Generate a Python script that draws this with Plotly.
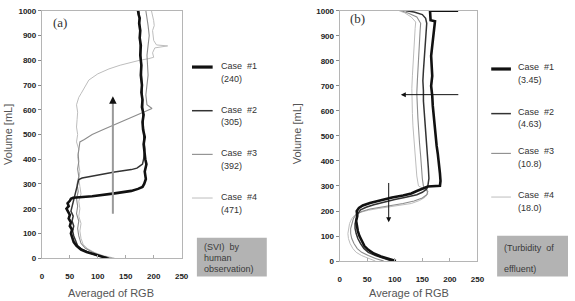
import plotly.graph_objects as go

# ---------------- Panel (a): SVI by human observation ----------------
a1_x = [117,106,92,80,70,62,57,55,52,54,50,52,48,50,46,44,48,46,50,52,56,90,130,160,172,180,183,186,184,187,185,183,182,184,181,180,182,179,180,178,179,177,178,176,177,175,176,174,175,173,172]
a1_y = [0,8,15,25,35,50,65,80,100,115,130,145,160,175,190,200,210,222,232,240,244,250,262,272,280,288,300,320,350,380,400,430,460,490,520,550,580,610,640,670,700,740,780,820,860,890,920,950,970,985,1000]

a2_x = [120,100,85,72,64,60,57,55,57,54,56,52,54,56,58,60,62,64,66,72,100,130,160,170,175,180,182,184,182,181,180,179,178,177,176,175,174,173]
a2_y = [0,10,22,35,50,70,90,110,130,150,170,190,210,230,250,270,290,305,318,324,336,348,358,364,372,380,400,440,500,560,640,720,800,860,920,960,985,1000]

a3_x = [125,105,90,78,70,66,64,66,62,64,62,65,63,66,64,66,65,66,68,76,90,110,130,150,165,175,185,190,197,188,186,188,190,189,188,190,192,190,188,186]
a3_y = [0,10,25,40,60,90,120,150,180,210,240,270,300,330,360,390,420,450,470,480,500,520,540,560,575,585,595,600,605,620,660,700,740,780,820,860,900,940,980,1000]

a4_x = [130,110,95,82,74,70,68,70,66,68,66,70,68,66,68,66,64,66,62,64,62,63,64,62,66,70,76,84,100,120,140,160,175,190,200,198,202,225,205,200,198,201,200,196]
a4_y = [0,10,22,38,55,80,110,140,170,200,230,260,290,320,350,380,410,440,470,500,530,560,590,620,650,665,690,720,745,765,780,793,800,806,812,830,850,858,862,880,920,940,960,1000]

# ---------------- Panel (b): turbidity of effluent ----------------
b1_x = [102,90,75,62,52,45,40,36,33,31,30,32,31,35,42,55,75,95,115,130,140,150,160,182,183,182,181,180,178,176,174,172,170,169,168,166,168,167,166,168,170,172,173,165,164,164,164,215]
b1_y = [0,8,18,30,45,60,80,100,120,140,160,180,200,212,222,232,244,254,262,270,280,290,298,301,320,350,380,400,430,460,500,540,580,620,660,700,740,780,820,860,900,940,958,962,980,995,1000,1000]

b2_x = [95,80,65,52,44,38,33,30,28,28,30,33,38,48,62,80,100,120,140,150,158,160,162,161,160,158,156,155,154,153,152,152,151,152,153,154,155,157,158,156,150,135,120]
b2_y = [0,10,22,35,50,70,90,110,130,150,170,190,205,215,225,236,246,255,265,275,288,300,330,370,400,440,480,520,560,600,640,680,720,760,800,840,880,920,950,970,985,995,1000]

b3_x = [80,65,52,40,32,26,22,20,20,22,25,30,40,55,75,95,115,135,150,158,160,155,152,150,149,147,145,143,142,141,140,141,142,143,144,146,147,140,125,112]
b3_y = [0,10,22,35,50,70,90,110,130,150,170,185,198,208,215,222,230,240,252,265,278,290,300,330,370,420,470,520,570,620,670,720,770,820,870,920,950,975,990,1000]

b4_x = [65,52,40,30,24,19,16,15,16,18,22,28,38,52,70,90,110,130,145,155,160,158,150,143,140,138,136,134,133,132,131,131,132,133,134,135,137,138,130,118,108]
b4_y = [0,10,22,35,50,70,90,110,130,150,170,185,195,203,210,216,222,230,242,255,268,282,292,300,340,390,440,490,540,590,640,690,740,790,840,890,930,955,975,992,1000]

x_ticks = [0, 50, 100, 150, 200, 250]
y_ticks = [0, 100, 200, 300, 400, 500, 600, 700, 800, 900, 1000]

labels_a = ["Case  #1", "Case  #2", "Case  #3", "Case  #4"]
values_a = ["(240)", "(305)", "(392)", "(471)"]
labels_b = ["Case  #1", "Case  #2", "Case  #3", "Case  #4"]
values_b = ["(3.45)", "(4.63)", "(10.8)", "(18.0)"]

colors = ["#111111", "#333333", "#8c8c8c", "#bdbdbd"]
widths = [2.6, 1.5, 1.1, 1.0]

W, H = 575, 301
def px(xp): return xp / W
def py(yp): return 1 - yp / H

fig = go.Figure()
for xs, ys, c, w in zip([a1_x, a2_x, a3_x, a4_x][::-1], [a1_y, a2_y, a3_y, a4_y][::-1], colors[::-1], widths[::-1]):
    fig.add_trace(go.Scatter(x=xs, y=ys, mode="lines", line=dict(color=c, width=w), xaxis="x", yaxis="y", showlegend=False))
for xs, ys, c, w in zip([b1_x, b2_x, b3_x, b4_x][::-1], [b1_y, b2_y, b3_y, b4_y][::-1], colors[::-1], widths[::-1]):
    fig.add_trace(go.Scatter(x=xs, y=ys, mode="lines", line=dict(color=c, width=w), xaxis="x2", yaxis="y2", showlegend=False))

tickfont = dict(family="Liberation Sans, Arial", size=8, color="#222222", weight="bold")
axis_common = dict(range=[0, 250], tickvals=x_ticks, ticks="inside", ticklen=3, tickcolor="#aaaaaa",
                   showline=True, linecolor="#b5b5b5", linewidth=1, mirror=True, showgrid=False,
                   zeroline=False, tickfont=tickfont, fixedrange=True, ticklabelstandoff=10)
yaxis_common = dict(range=[0, 1000], tickvals=y_ticks, ticks="outside", ticklen=3, tickcolor="#888888",
                    showline=True, linecolor="#b5b5b5", linewidth=1, mirror=True, showgrid=False,
                    zeroline=False, tickfont=tickfont, fixedrange=True)

fig.update_layout(
    width=W, height=H, margin=dict(l=0, r=0, t=0, b=0),
    paper_bgcolor="white", plot_bgcolor="white",
    xaxis=dict(domain=[px(40.5), px(182.5)], anchor="y", **axis_common),
    yaxis=dict(domain=[py(262), py(7)], anchor="x", **yaxis_common),
    xaxis2=dict(domain=[px(343), px(483)], anchor="y2", **axis_common),
    yaxis2=dict(domain=[py(265), py(7)], anchor="x2", **yaxis_common),
)

shapes = []
ann = []
txtfont = dict(family="Liberation Sans, Arial", size=9, color="#333333")

# arrows panel (a)
shapes.append(dict(type="line", xref="x", yref="y", x0=127, x1=127, y0=180, y1=640, line=dict(color="#9a9a9a", width=2)))
ann.append(dict(xref="x", yref="y", axref="x", ayref="y", x=127, y=655, ax=127, ay=630, showarrow=True,
                arrowhead=2, arrowsize=1, arrowwidth=1.5, arrowcolor="#111111", text=""))
# arrows panel (b)
ann.append(dict(xref="x2", yref="y2", axref="x2", ayref="y2", x=111, y=665, ax=218, ay=665, showarrow=True,
                arrowhead=2, arrowsize=1, arrowwidth=1, arrowcolor="#111111", text=""))
ann.append(dict(xref="x2", yref="y2", axref="x2", ayref="y2", x=89, y=155, ax=89, ay=318, showarrow=True,
                arrowhead=2, arrowsize=1, arrowwidth=1, arrowcolor="#111111", text=""))

# panel labels
ann.append(dict(xref="paper", yref="paper", x=px(50), y=py(19), xanchor="left", yanchor="middle", showarrow=False,
                text="(a)", font=dict(family="Liberation Serif, Times New Roman", size=13, color="#333333")))
ann.append(dict(xref="paper", yref="paper", x=px(352), y=py(15), xanchor="left", yanchor="middle", showarrow=False,
                text="(b)", font=dict(family="Liberation Serif, Times New Roman", size=13, color="#333333")))

# axis titles
axfont = dict(family="Liberation Sans, Arial", size=11, color="#555555")
ann.append(dict(xref="paper", yref="paper", x=px(6), y=py(134), textangle=-90, showarrow=False,
                text="Volume [mL]", font=axfont, xanchor="center", yanchor="middle"))
ann.append(dict(xref="paper", yref="paper", x=px(300), y=py(134), textangle=-90, showarrow=False,
                text="Volume [mL]", font=axfont, xanchor="center", yanchor="middle"))
ann.append(dict(xref="paper", yref="paper", x=px(111), y=py(298), showarrow=False,
                text="Averaged of RGB", font=axfont, xanchor="center", yanchor="middle"))
ann.append(dict(xref="paper", yref="paper", x=px(413), y=py(298), showarrow=False,
                text="Average of RGB", font=axfont, xanchor="center", yanchor="middle"))

# legends
leg_a_y = [65, 110, 155, 200]
leg_b_y = [67, 113, 154, 199]
for i in range(4):
    shapes.append(dict(type="line", xref="paper", yref="paper", x0=px(193), x1=px(214), y0=py(leg_a_y[i]), y1=py(leg_a_y[i]),
                       line=dict(color=colors[i], width=widths[i] + (0.6 if i == 0 else 0))))
    ann.append(dict(xref="paper", yref="paper", x=px(220), y=py(leg_a_y[i] - 1), xanchor="left", yanchor="middle",
                    showarrow=False, text=labels_a[i], font=txtfont))
    ann.append(dict(xref="paper", yref="paper", x=px(220), y=py(leg_a_y[i] + 12), xanchor="left", yanchor="middle",
                    showarrow=False, text=values_a[i], font=txtfont))
    shapes.append(dict(type="line", xref="paper", yref="paper", x0=px(497), x1=px(517), y0=py(leg_b_y[i]), y1=py(leg_b_y[i]),
                       line=dict(color=colors[i], width=widths[i] + (0.6 if i == 0 else 0))))
    ann.append(dict(xref="paper", yref="paper", x=px(522), y=py(leg_b_y[i] - 2), xanchor="left", yanchor="middle",
                    showarrow=False, text=labels_b[i], font=txtfont))
    ann.append(dict(xref="paper", yref="paper", x=px(522), y=py(leg_b_y[i] + 11), xanchor="left", yanchor="middle",
                    showarrow=False, text=values_b[i], font=txtfont))

# gray boxes
shapes.append(dict(type="rect", xref="paper", yref="paper", x0=px(198), x1=px(269), y0=py(281), y1=py(241),
                   fillcolor="#b3b3b3", line=dict(width=0), layer="below"))
shapes.append(dict(type="rect", xref="paper", yref="paper", x0=px(503), x1=px(575), y0=py(281), y1=py(239),
                   fillcolor="#b3b3b3", line=dict(width=0), layer="below"))
for t, yy in [("(SVI)  by", 250), ("human", 262), ("observation)", 273)]:
    ann.append(dict(xref="paper", yref="paper", x=px(203), y=py(yy), xanchor="left", yanchor="middle",
                    showarrow=False, text=t, font=dict(family=txtfont["family"], size=9, color="#3a3a3a")))
for t, yy in [("(Turbidity  of", 252), ("effluent)", 273)]:
    ann.append(dict(xref="paper", yref="paper", x=px(508), y=py(yy), xanchor="left", yanchor="middle",
                    showarrow=False, text=t, font=dict(family=txtfont["family"], size=9, color="#3a3a3a")))

fig.update_layout(shapes=shapes, annotations=ann)
fig.write_html("out.html")
